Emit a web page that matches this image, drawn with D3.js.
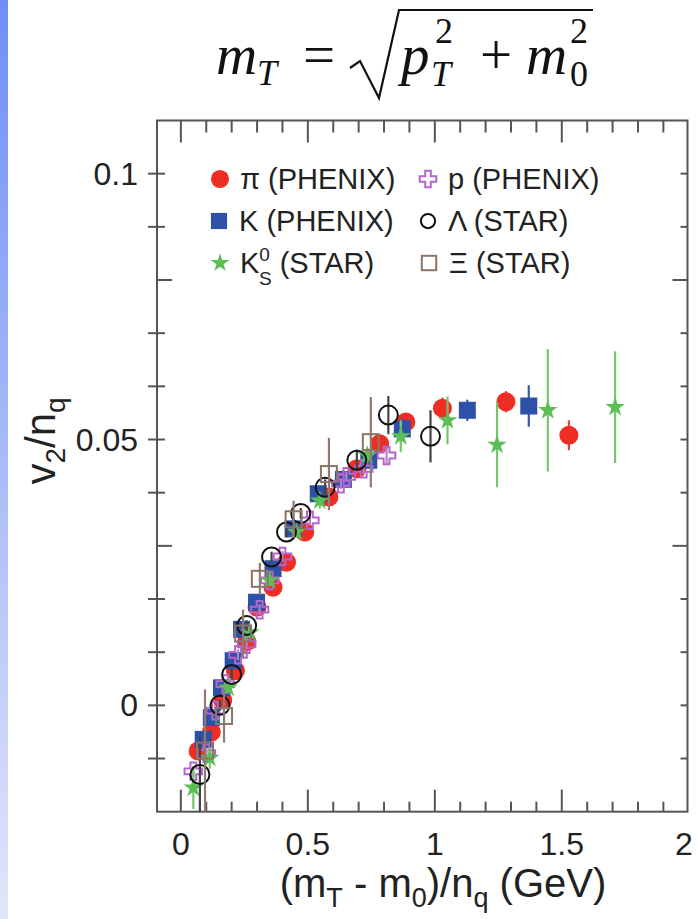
<!DOCTYPE html>
<html>
<head>
<meta charset="utf-8">
<script src="https://cdn.jsdelivr.net/npm/d3@7"></script>
<style>
  body { margin: 0; background: #fff; }
  svg { display: block; }
</style>
</head>
<body>
<div id="chart"></div>
<script>
const W = 697, H = 919;

// each point: [ (mT - m0)/nq in GeV, v2/nq, error half-height ]
const piPhenix = [
  [0.068, -0.0086, 0.001], [0.12, -0.005, 0.001], [0.165, 0.001, 0.001], [0.215, 0.0065, 0.001],
  [0.26, 0.012, 0.001], [0.30, 0.0185, 0.001], [0.363, 0.0222, 0.001], [0.416, 0.0269, 0.001],
  [0.488, 0.0326, 0.001], [0.583, 0.0392, 0.001], [0.693, 0.0445, 0.001], [0.783, 0.0492, 0.0015],
  [0.886, 0.0533, 0.0015], [1.03, 0.0559, 0.002], [1.28, 0.0571, 0.002], [1.528, 0.0508, 0.0028]
];
const kPhenix = [
  [0.088, -0.0064, 0.001], [0.12, -0.0023, 0.001], [0.16, 0.0033, 0.001], [0.206, 0.0084, 0.001],
  [0.239, 0.0143, 0.001], [0.298, 0.0194, 0.001], [0.363, 0.0257, 0.001], [0.442, 0.0332, 0.001],
  [0.541, 0.0398, 0.001], [0.64, 0.0425, 0.001], [0.74, 0.0461, 0.0015], [0.872, 0.052, 0.002],
  [1.128, 0.0555, 0.002], [1.37, 0.0563, 0.0039]
];
const pPhenix = [
  [0.049, -0.0124, 0.001], [0.10, -0.009, 0.001], [0.135, -0.001, 0.001], [0.175, 0.004, 0.001],
  [0.225, 0.0095, 0.001], [0.259, 0.0115, 0.001], [0.31, 0.018, 0.001], [0.35, 0.0235, 0.001],
  [0.40, 0.028, 0.001], [0.508, 0.0348, 0.001], [0.63, 0.0417, 0.001], [0.652, 0.043, 0.001],
  [0.72, 0.0445, 0.001], [0.81, 0.047, 0.0015]
];
const k0sStar = [
  [0.049, -0.0155, 0.004], [0.114, -0.0099, 0.002], [0.186, 0.0033, 0.001], [0.272, 0.0137, 0.001],
  [0.35, 0.0235, 0.001], [0.455, 0.0326, 0.001], [0.547, 0.0385, 0.0015], [0.734, 0.047, 0.0015],
  [0.866, 0.0506, 0.003], [1.05, 0.0536, 0.0045], [1.245, 0.049, 0.008], [1.445, 0.0555, 0.0115],
  [1.71, 0.0561, 0.0105]
];
const lambdaStar = [
  [0.075, -0.013, 0.007], [0.154, 0.0, 0.001], [0.20, 0.0058, 0.001], [0.259, 0.015, 0.001],
  [0.357, 0.0279, 0.001], [0.416, 0.0326, 0.001], [0.472, 0.0361, 0.001], [0.568, 0.041, 0.0015],
  [0.693, 0.0461, 0.002], [0.817, 0.0546, 0.0036], [0.983, 0.0506, 0.0049]
];
const xiStar = [
  [0.095, -0.0085, 0.0115], [0.17, -0.002, 0.005], [0.245, 0.0135, 0.0045], [0.311, 0.0238, 0.003],
  [0.444, 0.035, 0.0035], [0.583, 0.0435, 0.0068], [0.748, 0.0495, 0.0085]
];

const xMajorTicks = [0, 0.5, 1, 1.5, 2];
const xTickLabels = ['0', '0.5', '1', '1.5', '2'];
const yLabelTicks = [0, 0.05, 0.1];
const yTickLabels = ['0', '0.05', '0.1'];
const yLongTicks = [0.03, 0.08];

// plot box
const boxL = 157, boxR = 687.5, boxT = 120.5, boxB = 811.7;

const x = d3.scaleLinear().domain([-0.094, 1.995]).range([boxL, boxR]);
const y = d3.scaleLinear().domain([-0.02, 0.11]).range([boxB, boxT]);

const svg = d3.select('#chart').append('svg')
  .attr('width', W).attr('height', H)
  .attr('viewBox', `0 0 ${W} ${H}`);

const defs = svg.append('defs');
// blue strip on the left edge of the slide
const grad = defs.append('linearGradient')
  .attr('id', 'edge').attr('x1', 0).attr('y1', 0).attr('x2', 0).attr('y2', 1);
grad.append('stop').attr('offset', '0%').attr('stop-color', '#6f8ff6');
grad.append('stop').attr('offset', '100%').attr('stop-color', '#e2e6fa');
svg.append('rect').attr('x', 0).attr('y', 0).attr('width', 8).attr('height', H).attr('fill', 'url(#edge)');

defs.append('clipPath').attr('id', 'plotclip')
  .append('rect').attr('x', boxL).attr('y', boxT).attr('width', boxR - boxL).attr('height', boxB - boxT);

// ---- title formula ----
const title = svg.append('g')
  .style('font-family', '"Liberation Serif", "DejaVu Serif", serif')
  .style('fill', '#111');
const it = (txt, xx, yy, fs) => title.append('text')
  .attr('x', xx).attr('y', yy).style('font-size', fs + 'px').style('font-style', 'italic').text(txt);
const up = (txt, xx, yy, fs, anchor) => title.append('text')
  .attr('x', xx).attr('y', yy).attr('text-anchor', anchor || 'start')
  .style('font-size', fs + 'px').text(txt);
it('m', 216, 74, 57);
it('T', 257, 85, 36);
up('=', 319, 74, 57, 'middle');
title.append('path')
  .attr('d', 'M350,68 L360,61 L379,98 L399,10 L593,10')
  .attr('fill', 'none').attr('stroke', '#111').attr('stroke-width', 2.2)
  .attr('stroke-linejoin', 'miter');
it('p', 401, 74, 57);
it('T', 431, 86, 36);
up('2', 435, 43, 36);
up('+', 496, 74, 57, 'middle');
it('m', 526, 74, 57);
up('0', 570, 86, 36);
up('2', 570, 43, 36);

// ---- frame and ticks ----
const axisColor = '#555';
const frame = svg.append('g').attr('stroke', axisColor).attr('stroke-width', 2).attr('fill', 'none');
frame.append('rect').attr('x', boxL).attr('y', boxT).attr('width', boxR - boxL).attr('height', boxB - boxT);

const xMinor = d3.range(0, 20).map(i => i / 10);
const isMajorX = v => xMajorTicks.some(m => Math.abs(m - v) < 1e-9);
xMinor.forEach(v => {
  const len = isMajorX(v) ? 22 : 10;
  frame.append('line').attr('x1', x(v)).attr('x2', x(v)).attr('y1', boxB).attr('y2', boxB - len);
  frame.append('line').attr('x1', x(v)).attr('x2', x(v)).attr('y1', boxT).attr('y2', boxT + (isMajorX(v) ? 22 : 12));
});

const yMinor = d3.range(-1, 11).map(i => i / 100);
yMinor.forEach(v => {
  const long = yLongTicks.some(m => Math.abs(m - v) < 1e-9);
  if (long) {
    frame.append('line').attr('x1', boxL).attr('x2', boxL + 15).attr('y1', y(v)).attr('y2', y(v));
    frame.append('line').attr('x1', boxR).attr('x2', boxR - 15).attr('y1', y(v)).attr('y2', y(v));
  } else {
    frame.append('line').attr('x1', boxL - 9).attr('x2', boxL + 8).attr('y1', y(v)).attr('y2', y(v));
    frame.append('line').attr('x1', boxR).attr('x2', boxR - 7).attr('y1', y(v)).attr('y2', y(v));
  }
});

// tick labels
const labelFont = '"Liberation Sans", Arial, sans-serif';
svg.append('g').selectAll('text').data(xMajorTicks).join('text')
  .attr('x', d => Math.min(x(d), W - 13)).attr('y', 855)
  .attr('text-anchor', 'middle')
  .style('font-family', labelFont).style('font-size', '32px').style('fill', '#222')
  .text((d, i) => xTickLabels[i]);

svg.append('g').selectAll('text').data(yLabelTicks).join('text')
  .attr('x', 138).attr('y', d => y(d) + 11)
  .attr('text-anchor', 'end')
  .style('font-family', labelFont).style('font-size', '32px').style('fill', '#222')
  .text((d, i) => yTickLabels[i]);

// axis titles
const xt = svg.append('text')
  .attr('x', 443).attr('y', 897).attr('text-anchor', 'middle')
  .style('font-family', labelFont).style('font-size', '40px').style('fill', '#222');
xt.append('tspan').text('(m');
xt.append('tspan').attr('dy', 10).style('font-size', '27px').text('T');
xt.append('tspan').attr('dy', -10).text(' - m');
xt.append('tspan').attr('dy', 10).style('font-size', '27px').text('0');
xt.append('tspan').attr('dy', -10).text(')/n');
xt.append('tspan').attr('dy', 10).style('font-size', '27px').text('q');
xt.append('tspan').attr('dy', -10).text(' (GeV)');

const yt = svg.append('text')
  .attr('transform', 'translate(55,441) rotate(-90)').attr('text-anchor', 'middle')
  .style('font-family', labelFont).style('font-size', '42px').style('fill', '#222');
yt.append('tspan').text('v');
yt.append('tspan').attr('dy', 10).style('font-size', '28px').text('2');
yt.append('tspan').attr('dy', -10).text('/n');
yt.append('tspan').attr('dy', 10).style('font-size', '28px').text('q');

// ---- data ----
const series = [
  { data: piPhenix, shape: 'circle', fill: '#ee2d24', stroke: 'none', bar: '#e0443a', size: 9.5 },
  { data: kPhenix, shape: 'square', fill: '#2d50a8', stroke: 'none', bar: '#3558b0', size: 17 },
  { data: pPhenix, shape: 'cross', fill: 'none', stroke: '#b466cf', bar: '#b980d0', size: 170 },
  { data: k0sStar, shape: 'star', fill: '#5cbf55', stroke: 'none', bar: '#79c56f', size: 120 },
  { data: lambdaStar, shape: 'circle', fill: 'none', stroke: '#111', bar: '#444', size: 9.5 },
  { data: xiStar, shape: 'square', fill: 'none', stroke: '#8c7468', bar: '#8f7b70', size: 16 }
];

const plot = svg.append('g').attr('clip-path', 'url(#plotclip)');

function drawMarker(g, s, cx, cy, scale) {
  const k = scale || 1;
  if (s.shape === 'circle') {
    return g.append('circle').attr('cx', cx).attr('cy', cy).attr('r', s.size * k)
      .attr('fill', s.fill).attr('stroke', s.stroke).attr('stroke-width', 2);
  }
  if (s.shape === 'square') {
    const a = s.size * k;
    return g.append('rect').attr('x', cx - a / 2).attr('y', cy - a / 2).attr('width', a).attr('height', a)
      .attr('fill', s.fill).attr('stroke', s.stroke).attr('stroke-width', 2);
  }
  const type = s.shape === 'star' ? d3.symbolStar : d3.symbolCross;
  return g.append('path').attr('transform', `translate(${cx},${cy})`)
    .attr('d', d3.symbol().type(type).size(s.size * k * k)())
    .attr('fill', s.fill).attr('stroke', s.stroke).attr('stroke-width', 2);
}

series.forEach(s => {
  const g = plot.append('g');
  s.data.forEach(([vx, vy, e]) => {
    g.append('line')
      .attr('x1', x(vx)).attr('x2', x(vx))
      .attr('y1', y(vy - e)).attr('y2', y(vy + e))
      .attr('stroke', s.bar).attr('stroke-width', 2.2);
  });
  s.data.forEach(([vx, vy]) => drawMarker(g, s, x(vx), y(vy)));
});

// ---- legend ----
const legendRows = [
  { s: series[0], label: ['π (PHENIX)'], x: 220, y: 179 },
  { s: series[2], label: ['p (PHENIX)'], x: 428, y: 179 },
  { s: series[1], label: ['K (PHENIX)'], x: 219, y: 221 },
  { s: series[4], label: ['Λ (STAR)'], x: 428, y: 221 },
  { s: series[3], label: null, x: 220, y: 263 },
  { s: series[5], label: ['Ξ (STAR)'], x: 429, y: 263 }
];
const leg = svg.append('g');
legendRows.forEach(r => {
  const scale = (r.s.shape === 'circle' && r.s.fill === 'none') ? 0.75 : (r.s.shape === 'square' && r.s.fill === 'none' ? 0.9 : 0.95);
  drawMarker(leg, r.s, r.x, r.y, scale);
  const t = leg.append('text').attr('x', r.x + 20).attr('y', r.y + 10)
    .style('font-family', labelFont).style('font-size', '29px').style('fill', '#222');
  if (r.label) {
    t.text(r.label[0]);
  } else {
    t.append('tspan').text('K');
    t.append('tspan').attr('dy', -12).style('font-size', '19px').text('0');
    t.append('tspan').attr('dx', -11).attr('dy', 24).style('font-size', '19px').text('S');
    t.append('tspan').attr('dy', -12).text(' (STAR)');
  }
});
</script>
</body>
</html>
